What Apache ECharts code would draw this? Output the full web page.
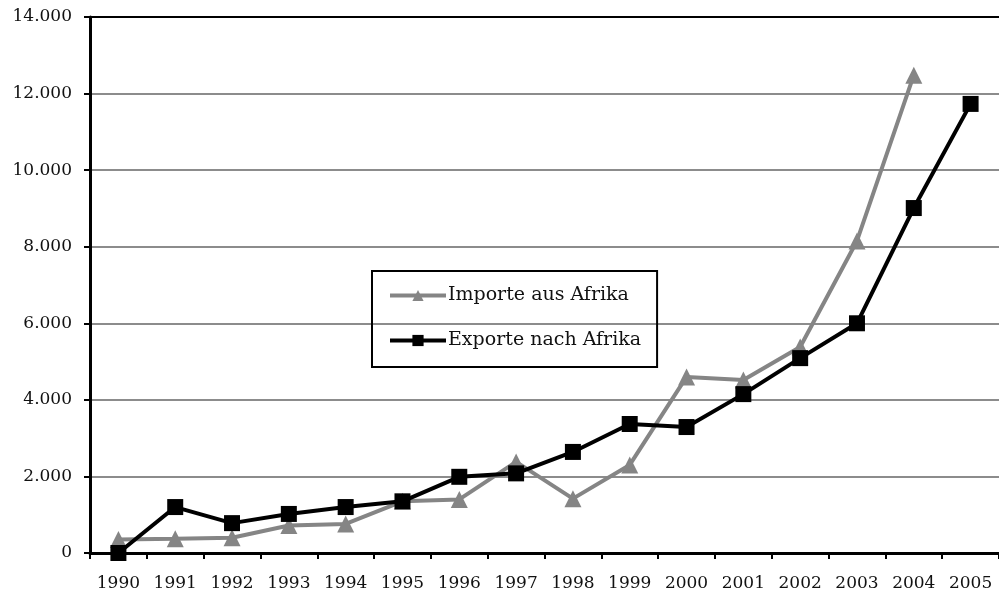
<!DOCTYPE html>
<html>
<head>
<meta charset="utf-8">
<script src="https://cdn.jsdelivr.net/npm/echarts@6/dist/echarts.min.js"></script>
<style>html,body{margin:0;padding:0;background:#fff}#c{width:999px;height:592px}</style>
</head>
<body>
<div id="c"></div>
<script>
const years = ['1990','1991','1992','1993','1994','1995','1996','1997','1998','1999','2000','2001','2002','2003','2004','2005'];
const importe = [350, 370, 400, 720, 760, 1350, 1400, 2380, 1420, 2300, 4600, 4520, 5380, 8150, 12480, null];
const exporte = [0, 1200, 780, 1020, 1200, 1350, 1990, 2080, 2640, 3370, 3290, 4150, 5090, 6000, 9010, 11730];
const seriesNames = ['Importe aus Afrika', 'Exporte nach Afrika'];

const FONT = 'DejaVu Serif';
const chart = echarts.init(document.getElementById('c'), null, {renderer: 'canvas'});
chart.setOption({
  animation: false,
  backgroundColor: '#fff',
  textStyle: {fontFamily: FONT},
  grid: {left: 90, top: 17, width: 915, height: 536, containLabel: false},
  legend: {
    orient: 'vertical',
    left: 372, top: 271,
    data: seriesNames,
    itemWidth: 56, itemHeight: 14, itemGap: 26,
    lineStyle: {width: 4},
    padding: [15, 16, 17, 16],
    borderColor: '#000', borderWidth: 2,
    textStyle: {fontFamily: FONT, fontSize: 19, color: '#111', padding: [0,0,0,-3]}
  },
  xAxis: {
    type: 'category',
    data: years,
    boundaryGap: true,
    axisLine: {lineStyle: {color: '#000', width: 3}},
    axisTick: {show: true, length: 6, lineStyle: {color: '#000', width: 2}},
    axisLabel: {fontFamily: FONT, fontSize: 17, color: '#111', margin: 22},
    splitLine: {show: false}
  },
  yAxis: {
    type: 'value',
    min: 0, max: 14000, interval: 2000,
    axisLine: {show: true, lineStyle: {color: '#000', width: 3}},
    axisTick: {show: true, length: 6, lineStyle: {color: '#000', width: 2}},
    axisLabel: {fontFamily: FONT, fontSize: 17, color: '#111', margin: 18,
      formatter: v => String(v).replace(/\B(?=(\d{3})+(?!\d))/g, '.')},
    splitLine: {show: true, lineStyle: {color: ['#8c8c8c','#8c8c8c','#8c8c8c','#8c8c8c','#8c8c8c','#8c8c8c','#8c8c8c','#000'], width: 2}}
  },
  series: [
    {
      name: seriesNames[0], type: 'line', data: importe,
      symbol: 'triangle', symbolSize: 17,
      lineStyle: {color: '#858585', width: 4},
      itemStyle: {color: '#858585'},
      z: 2
    },
    {
      name: seriesNames[1], type: 'line', data: exporte,
      symbol: 'rect', symbolSize: 16,
      lineStyle: {color: '#000', width: 4},
      itemStyle: {color: '#000'},
      z: 3
    }
  ]
});
</script>
</body>
</html>
